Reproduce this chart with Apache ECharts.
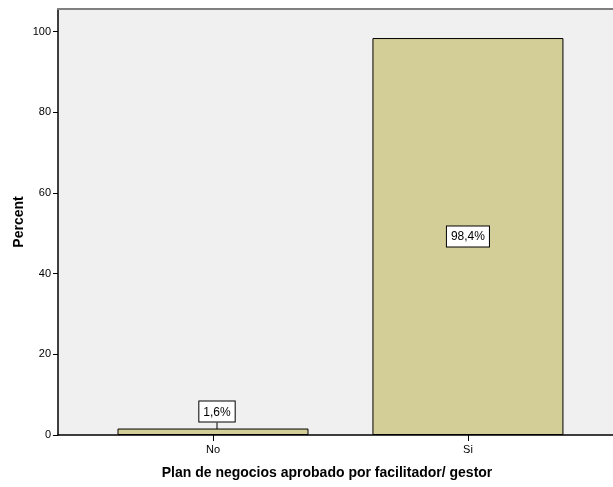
<!DOCTYPE html>
<html>
<head>
<meta charset="utf-8">
<script src="https://cdn.jsdelivr.net/npm/echarts@6/dist/echarts.min.js"></script>
<style>
html,body{margin:0;padding:0;background:#fff;}
#c{width:613px;height:487px;}
</style>
</head>
<body>
<div id="c"></div>
<script>
const categories = ['No', 'Si'];
const values = [1.6, 98.4];
const yTicks = [0, 20, 40, 60, 80, 100];
const xTitle = 'Plan de negocios aprobado por facilitador/ gestor';
const yTitle = 'Percent';

const font = '"Liberation Sans", Arial, sans-serif';
const fmt = v => v.toFixed(1).replace('.', ',') + '%';
const xMin = -0.608, xMax = 1.569;

const chart = echarts.init(document.getElementById('c'), null, {renderer: 'canvas'});
chart.setOption({
  animation: false,
  backgroundColor: '#ffffff',
  grid: {
    left: 58, top: 9, right: 0, bottom: 52,
    show: true, backgroundColor: '#f0f0f0', borderWidth: 0
  },
  xAxis: [{
    type: 'value', min: xMin, max: xMax,
    splitLine: {show: false},
    axisLine: {show: true, onZero: false, lineStyle: {color: '#000', width: 1.5}},
    axisTick: {show: true, customValues: categories.map((c, i) => i), length: 6, lineStyle: {color: '#000'}},
    axisLabel: {
      customValues: categories.map((c, i) => i),
      formatter: v => categories[Math.round(v)] || '',
      color: '#000', fontSize: 11, fontFamily: font, margin: 9
    }
  }, {
    type: 'value', position: 'top', min: xMin, max: xMax,
    splitLine: {show: false},
    axisLine: {show: true, onZero: false, lineStyle: {color: '#808080', width: 2}},
    axisTick: {show: false}, axisLabel: {show: false}
  }],
  yAxis: {
    type: 'value', min: 0, max: 105.6,
    splitLine: {show: false},
    axisLine: {show: true, onZero: false, lineStyle: {color: '#000', width: 1.5}},
    axisTick: {show: true, customValues: yTicks, length: 5, lineStyle: {color: '#000'}},
    axisLabel: {customValues: yTicks, color: '#000', fontSize: 11, fontFamily: font, margin: 7}
  },
  graphic: [
    {type: 'text', style: {text: xTitle, font: 'bold 14px ' + font, fill: '#000', textAlign: 'center', textVerticalAlign: 'middle', x: 327, y: 473}},
    {type: 'text', rotation: Math.PI / 2, x: 19, y: 222, style: {text: yTitle, font: 'bold 14px ' + font, fill: '#000', textAlign: 'center', textVerticalAlign: 'middle'}}
  ],
  series: [{
    type: 'bar',
    xAxisIndex: 0,
    barWidth: 191,
    data: categories.map((c, i) => ({
      value: [i, values[i]],
      label: i === 0 ? {position: 'top', distance: 6} : {position: 'inside'}
    })),
    itemStyle: {color: '#d3ce97', borderColor: '#000', borderWidth: 1},
    label: {
      show: true,
      formatter: p => fmt(p.value[1]),
      color: '#000', fontSize: 12, fontFamily: font,
      backgroundColor: '#fff', borderColor: '#000', borderWidth: 1,
      padding: [5, 4, 3, 4]
    },
    labelLayout: p => p.dataIndex === 0 ? {dx: 4, dy: -1} : {},
    labelLine: {show: true, lineStyle: {color: '#000', width: 1}}
  }]
});
</script>
</body>
</html>
